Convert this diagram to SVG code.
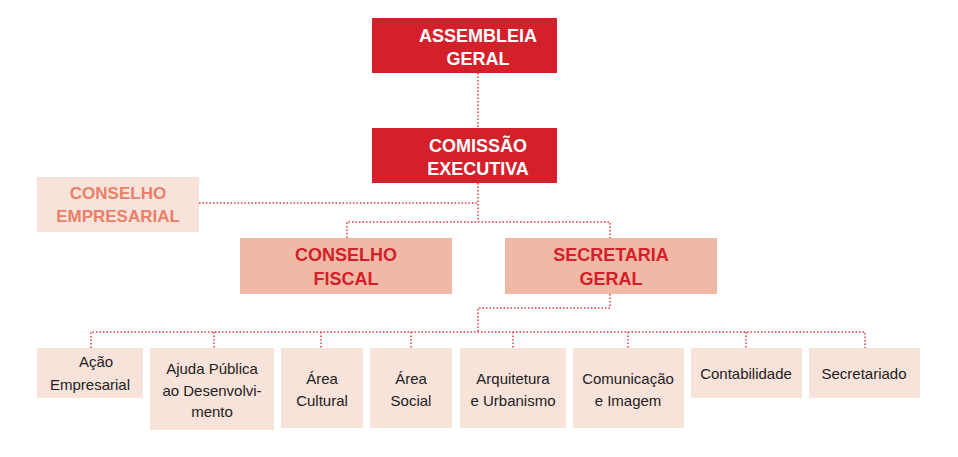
<svg xmlns="http://www.w3.org/2000/svg" width="958" height="457" viewBox="0 0 958 457">
<style>
.red{fill:#d4202a}.mid{fill:#efb9a5}.lt{fill:#f8e3da}
text{font-family:"Liberation Sans",Arial,sans-serif;text-anchor:middle}
.tw{fill:#fff;font-weight:bold;font-size:18px}
.tr{fill:#d4202a;font-weight:bold;font-size:18px}
.to{fill:#e8806a;font-weight:bold;font-size:17px}
.tk{fill:#222;font-size:15px}
.c{fill:none;stroke:#e03a3e;stroke-width:1.5;stroke-dasharray:1.5 2}
</style>
<rect width="958" height="457" fill="#fff"/>
<g id="connectors">
<path class="c" d="M478 73V128M478 183V222M347 238V222H610V238M199 203H478M610 294V308H478V332M91 348V332H865V348M214 332V348M321 332V348M411 332V348M513 332V348M628 332V348M746 332V348"/>
</g>
<g id="assembleia"><rect class="red" x="372" y="18" width="185" height="55"/><text class="tw" x="478" y="42">ASSEMBLEIA</text><text class="tw" x="478" y="65">GERAL</text></g>
<g id="comissao"><rect class="red" x="372" y="128" width="185" height="55"/><text class="tw" x="478" y="152">COMISSÃO</text><text class="tw" x="478" y="175">EXECUTIVA</text></g>
<g id="empresarial"><rect class="lt" x="37" y="177" width="162" height="55"/><text class="to" x="118" y="199">CONSELHO</text><text class="to" x="118" y="222">EMPRESARIAL</text></g>
<g id="fiscal"><rect class="mid" x="240" y="238" width="212" height="56"/><text class="tr" x="346" y="261">CONSELHO</text><text class="tr" x="346" y="285">FISCAL</text></g>
<g id="secretaria"><rect class="mid" x="505" y="238" width="212" height="56"/><text class="tr" x="611" y="261">SECRETARIA</text><text class="tr" x="611" y="285">GERAL</text></g>
<g id="acao"><rect class="lt" x="37" y="348" width="106" height="50"/><text class="tk" x="96" y="367">Ação</text><text class="tk" x="90" y="390">Empresarial</text></g>
<g id="ajuda"><rect class="lt" x="150" y="348" width="124" height="82"/><text class="tk" x="212" y="374">Ajuda Pública</text><text class="tk" x="212" y="396">ao Desenvolvi-</text><text class="tk" x="212" y="417">mento</text></g>
<g id="cultural"><rect class="lt" x="281" y="348" width="82" height="80"/><text class="tk" x="322" y="384">Área</text><text class="tk" x="322" y="406">Cultural</text></g>
<g id="social"><rect class="lt" x="370" y="348" width="82" height="80"/><text class="tk" x="411" y="384">Área</text><text class="tk" x="411" y="406">Social</text></g>
<g id="arquitetura"><rect class="lt" x="460" y="348" width="106" height="80"/><text class="tk" x="513" y="384">Arquitetura</text><text class="tk" x="513" y="406">e Urbanismo</text></g>
<g id="comunicacao"><rect class="lt" x="573" y="348" width="111" height="80"/><text class="tk" x="628" y="384">Comunicação</text><text class="tk" x="628" y="406">e Imagem</text></g>
<g id="contabilidade"><rect class="lt" x="691" y="348" width="111" height="50"/><text class="tk" x="746" y="379">Contabilidade</text></g>
<g id="secretariado"><rect class="lt" x="809" y="348" width="111" height="50"/><text class="tk" x="864" y="379">Secretariado</text></g>
</svg>
